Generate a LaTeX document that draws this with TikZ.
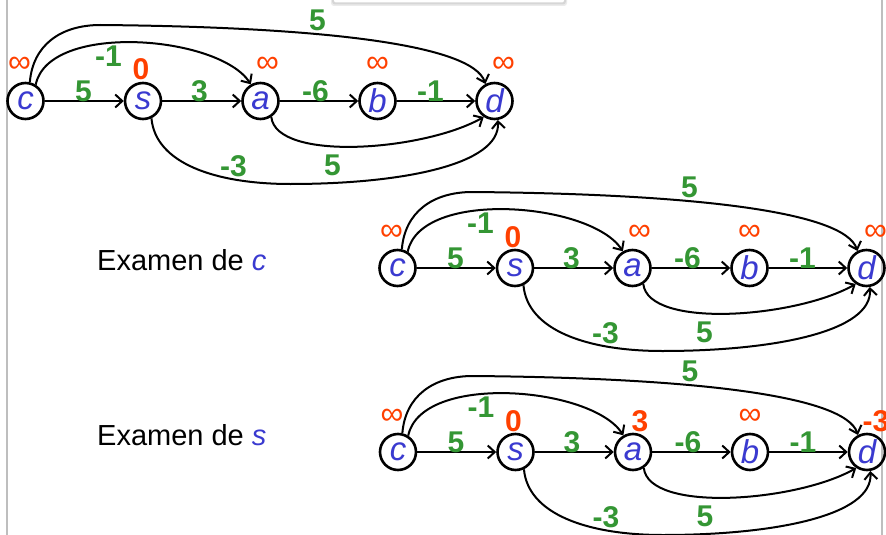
\documentclass[tikz,border=0pt]{standalone}
\usepackage{fontspec}
\setmainfont{Liberation Sans}
\usetikzlibrary{arrows.meta}
\definecolor{vblue}{RGB}{58,58,208}
\definecolor{dred}{RGB}{255,64,0}
\definecolor{wgreen}{RGB}{52,150,52}
\definecolor{framegray}{RGB}{190,190,190}
\tikzset{
  vtx/.style={circle,draw=black,line width=2.6pt,minimum size=36pt,inner sep=0pt,
    font=\fontsize{33}{33}\selectfont\itshape,text=vblue},
  dist/.style={inner sep=0pt,text=dred,font=\fontsize{30}{30}\selectfont\bfseries,anchor=base},
  wt/.style={inner sep=0pt,text=wgreen,font=\fontsize{30}{30}\selectfont\bfseries},
  edge/.style={line width=2pt,-{Straight Barb[length=7pt,width=13pt]}},
  examtext/.style={anchor=base west,inner sep=0pt,font=\fontsize{29}{29}\selectfont},
}
\newcommand\inff{\raisebox{7pt}{\mdseries\fontsize{32}{32}\selectfont ∞}}
\newcommand\relgraph[7]{%
\begin{scope}[shift={#2},name prefix=#1-]
  \node[vtx] (c) at (0,0) {c};
  \node[vtx] (s) at (117.5,0) {s};
  \node[vtx] (a) at (235,0) {a};
  \node[vtx] (b) at (352,0) {b};
  \node[vtx] (d) at (469,0) {d};
  \node[dist] (lc) at (-6,-21) {#3};
  \node[dist] (ls) at (115.5,-21) {#4};
  \node[dist] (la) at (242,-21) {#5};
  \node[dist] (lb) at (352,-21) {#6};
  \node[dist] (ld) at (478,-21) {#7};
  \draw[edge] (c) -- (s);
  \draw[edge] (s) -- (a);
  \draw[edge] (a) -- (b);
  \draw[edge] (b) -- (d);
  \draw[edge] (c.58) .. controls +(13,-63) and +(-32,-49) .. (a.120);
  \draw[edge] (c.77) .. controls +(3,-37) and +(-40,0) .. (75,-76)
              .. controls +(225,2) and +(-13,-39) .. (d.118);
  \draw[edge] (a.-56) .. controls +(5,45) and +(-60,34) .. (d.-124);
  \draw[edge] (s.-64) .. controls +(4,45) and +(-75,0) .. (265,83)
              .. controls +(110,0) and +(3,45) .. (d.-80);
  \node[wt] (wcs) at (58,-10) {5};
  \node[wt] (wsa) at (174,-10) {3};
  \node[wt] (wab) at (290,-10) {-6};
  \node[wt] (wbd) at (405,-10) {-1};
  \node[wt] (wca) at (83,-45) {-1};
  \node[wt] (wcd) at (292,-81) {5};
  \node[wt] (wsd) at (208,65) {-3};
  \node[wt] (wad) at (307,64) {5};
\end{scope}}
\begin{document}
\begin{tikzpicture}[x=1pt,y=-1pt]
  \useasboundingbox (0,0) rectangle (886,535);
  \clip (0,0) rectangle (886,535);
  \fill[white] (0,0) rectangle (886,535);
  % slide frame remnants
  \draw[framegray,line width=1.2pt] (7,0) -- (7,535);
  \draw[framegray,line width=1.2pt] (882,0) -- (882,535);
  \fill[black!8,rounded corners=3pt] (331,-10) rectangle (567,6);
  \fill[black!16,rounded corners=3pt] (332,-10) rectangle (566,4.5);
  \fill[white,rounded corners=2pt] (334,-10) rectangle (564,2.5);
  % graphs
  \relgraph{g1}{(25.5,101)}{\inff}{0}{\inff}{\inff}{\inff}
  \relgraph{g2}{(397.5,268)}{\inff}{0}{\inff}{\inff}{\inff}
  \relgraph{g3}{(398,452)}{\inff}{0}{3}{\inff}{-3}
  \node[examtext] (ex1) at (97,270) {Examen de \textcolor{vblue}{\itshape c}};
  \node[examtext] (ex2) at (97,445) {Examen de \textcolor{vblue}{\itshape s}};
\end{tikzpicture}
\end{document}
